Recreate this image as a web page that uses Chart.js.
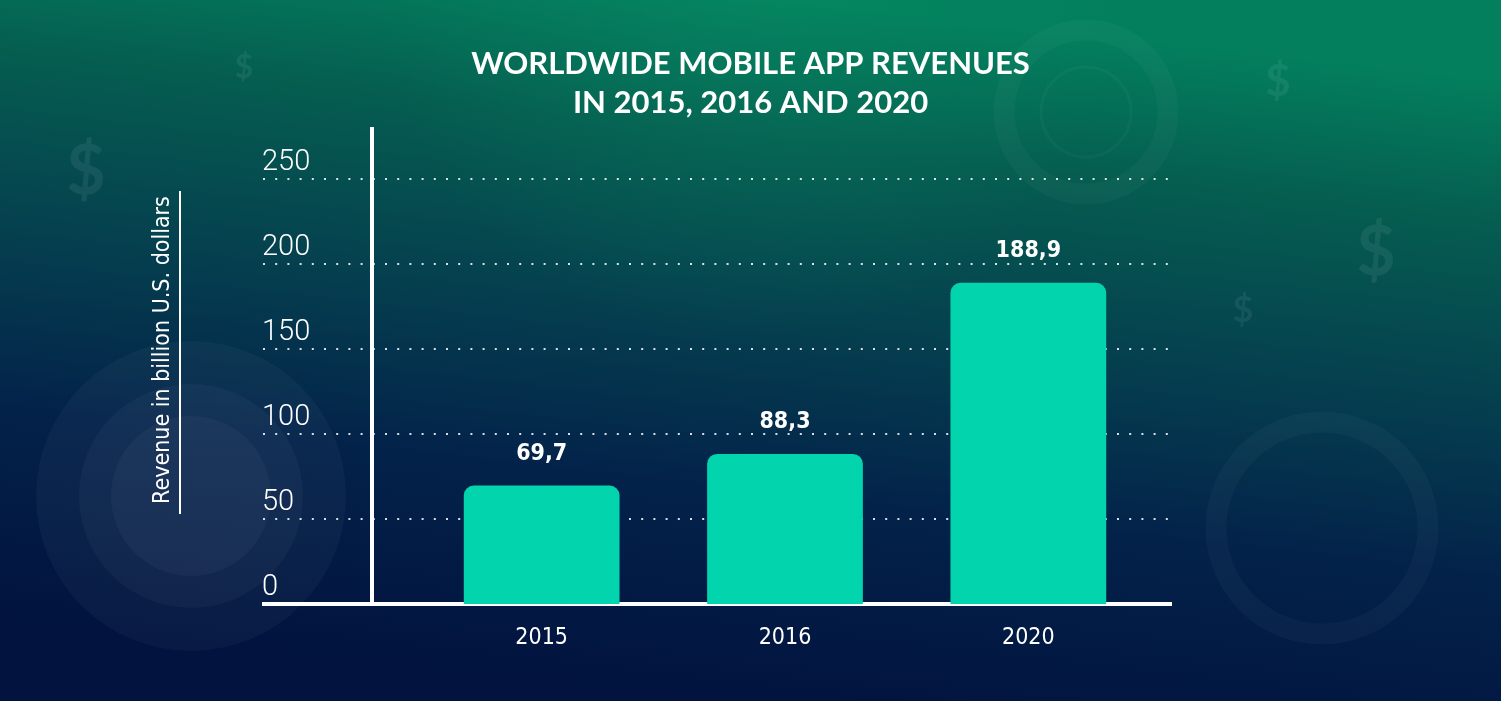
<!DOCTYPE html>
<html>
<head>
<meta charset="utf-8">
<title>Worldwide mobile app revenues</title>
<script src="https://cdn.jsdelivr.net/npm/chart.js@4/dist/chart.umd.min.js"></script>
<style>
  html, body { margin: 0; padding: 0; background: #011440; }
  #wrap { width: 1501px; height: 701px; }
</style>
</head>
<body>
<div id="wrap"><canvas id="revenueChart" width="1501" height="701"></canvas></div>
<script>
// Chart data
const years = ["2015", "2016", "2020"];
const revenues = [69.7, 88.3, 188.9]; // billion U.S. dollars
const yMin = 0;
const yMax = 250;
const yStep = 50;
const titleLines = ["WORLDWIDE MOBILE APP REVENUES", "IN 2015, 2016 AND 2020"];
const yAxisTitle = "Revenue in billion U.S. dollars";

const narrowFont = "'Liberation Sans Narrow', 'DejaVu Sans Condensed', 'Roboto', sans-serif";

// decimal comma like the original graphic
const formatValue = (v) => v.toFixed(1).replace(".", ",");

// Gradient background with the faint circles and dollar signs
const backgroundPlugin = {
  id: "background",
  beforeDraw(chart) {
    const { ctx, width, height } = chart;
    ctx.save();
    const bg = ctx.createLinearGradient(790, 0, 710, height);
    bg.addColorStop(0, "#037f5d");
    bg.addColorStop(0.2, "#055d50");
    bg.addColorStop(0.45, "#05404f");
    bg.addColorStop(0.7, "#03224a");
    bg.addColorStop(1, "#01133e");
    ctx.fillStyle = bg;
    ctx.fillRect(0, 0, width, height);

    const glow = ctx.createRadialGradient(750, -40, 10, 750, -40, 380);
    glow.addColorStop(0, "rgba(10,150,105,0.3)");
    glow.addColorStop(1, "rgba(10,150,105,0)");
    ctx.fillStyle = glow;
    ctx.fillRect(0, 0, width, height);

    // left bottom discs
    ctx.fillStyle = "rgba(255,255,255,0.035)";
    [155, 112, 80].forEach((r) => {
      ctx.beginPath();
      ctx.arc(191, 496, r, 0, Math.PI * 2);
      ctx.fill();
    });

    // rings
    ctx.strokeStyle = "rgba(255,255,255,0.03)";
    ctx.lineWidth = 21;
    ctx.beginPath();
    ctx.arc(1322, 528, 106, 0, Math.PI * 2);
    ctx.stroke();
    ctx.beginPath();
    ctx.arc(1086, 112, 82, 0, Math.PI * 2);
    ctx.stroke();
    ctx.lineWidth = 3;
    ctx.beginPath();
    ctx.arc(1086, 112, 45, 0, Math.PI * 2);
    ctx.stroke();

    // dollar signs
    ctx.fillStyle = "rgba(255,255,255,0.07)";
    ctx.textAlign = "center";
    ctx.textBaseline = "middle";
    [[244, 68, 32], [86, 172, 68], [1278, 82, 44], [1376, 253, 68], [1243, 310, 36]].forEach(([x, y, s]) => {
      ctx.font = "bold " + s + "px Lato, sans-serif";
      ctx.fillText("$", x, y);
    });
    ctx.restore();
  },
};

// Dotted grid, axis lines and the y axis caption
const axesPlugin = {
  id: "axes",
  beforeDatasetsDraw(chart) {
    const { ctx, chartArea } = chart;
    const yScale = chart.scales.y;
    ctx.save();
    ctx.strokeStyle = "rgba(255,255,255,0.85)";
    ctx.lineWidth = 2;
    ctx.setLineDash([2, 10.2]);
    yScale.ticks.forEach((t) => {
      if (t.value === 0) return;
      const y = Math.round(yScale.getPixelForValue(t.value));
      ctx.beginPath();
      ctx.moveTo(263, y);
      ctx.lineTo(1168, y);
      ctx.stroke();
    });
    ctx.setLineDash([]);

    ctx.strokeStyle = "#ffffff";
    ctx.lineWidth = 4;
    ctx.beginPath();
    ctx.moveTo(372, 127);
    ctx.lineTo(372, chartArea.bottom);
    ctx.stroke();
    ctx.beginPath();
    ctx.moveTo(262, chartArea.bottom);
    ctx.lineTo(1172, chartArea.bottom);
    ctx.stroke();

    ctx.lineWidth = 2;
    ctx.beginPath();
    ctx.moveTo(180, 191);
    ctx.lineTo(180, 514);
    ctx.stroke();

    ctx.translate(163, 350);
    ctx.rotate(-Math.PI / 2);
    ctx.fillStyle = "#ffffff";
    ctx.font = "23px " + narrowFont;
    ctx.textAlign = "center";
    ctx.textBaseline = "middle";
    ctx.fillText(yAxisTitle, 0, 0);
    ctx.restore();
  },
};

// Value labels above the bars
const valueLabelPlugin = {
  id: "valueLabels",
  afterDatasetsDraw(chart) {
    const { ctx } = chart;
    const meta = chart.getDatasetMeta(0);
    ctx.save();
    ctx.fillStyle = "#ffffff";
    ctx.font = "bold 23px " + narrowFont;
    ctx.textAlign = "center";
    ctx.textBaseline = "alphabetic";
    meta.data.forEach((bar, i) => {
      ctx.fillText(formatValue(revenues[i]), bar.x, bar.y - 26);
    });
    ctx.restore();
  },
};

const revenueChart = new Chart(document.getElementById("revenueChart"), {
  type: "bar",
  data: {
    labels: years,
    datasets: [
      {
        label: "Revenue",
        data: revenues,
        backgroundColor: "#02d5ad",
        borderRadius: { topLeft: 10, topRight: 10 },
        borderSkipped: "bottom",
        barPercentage: 0.64,
        categoryPercentage: 1,
      },
    ],
  },
  options: {
    responsive: false,
    animation: false,
    layout: { padding: { left: 0, right: 0, top: 0, bottom: 47 } },
    plugins: {
      legend: { display: false },
      tooltip: { enabled: false },
      title: {
        display: true,
        text: titleLines,
        color: "#ffffff",
        font: { family: "Lato", weight: "bold", size: 31, lineHeight: 1.25 },
        padding: { top: 45, bottom: 56.5 },
      },
    },
    scales: {
      x: {
        grid: { display: false, drawTicks: false },
        border: { display: false },
        ticks: {
          color: "#ffffff",
          padding: 20,
          font: { family: narrowFont, size: 23 },
        },
        afterFit: (scale) => {
          scale.height = 50;
        },
      },
      y: {
        min: yMin,
        max: yMax,
        grid: { display: false, drawTicks: false },
        border: { display: false },
        ticks: {
          stepSize: yStep,
          color: "#ffffff",
          mirror: true,
          crossAlign: "near",
          padding: -158,
          labelOffset: -16,
          font: { family: "Roboto", weight: 300, size: 29 },
        },
        afterFit: (scale) => {
          scale.width = 420;
        },
      },
      // empty right scale only reserves the space right of the bars
      spacer: {
        position: "right",
        grid: { display: false, drawTicks: false },
        border: { display: false },
        ticks: { display: false },
        afterFit: (scale) => {
          scale.width = 351;
        },
      },
    },
  },
  plugins: [backgroundPlugin, axesPlugin, valueLabelPlugin],
});
</script>
</body>
</html>
